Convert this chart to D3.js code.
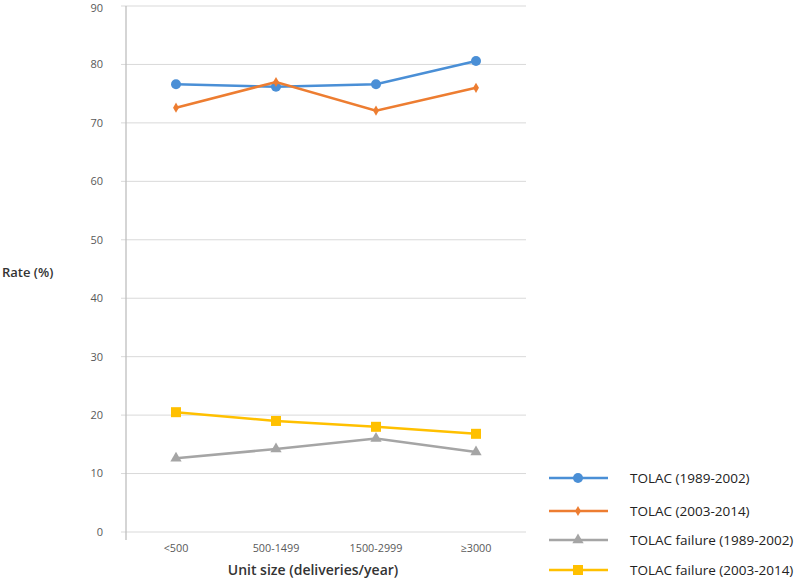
<!DOCTYPE html>
<html><head><meta charset="utf-8">
<script src="https://cdn.jsdelivr.net/npm/d3@7"></script>
<style>body{margin:0;background:#fff}svg{display:block;font-family:"Open Sans","Noto Sans",sans-serif}</style>
</head><body>
<svg id="c" width="800" height="580"></svg>
<script>
const categories = ["<500", "500-1499", "1500-2999", "≥3000"];
const yTicks = [0, 10, 20, 30, 40, 50, 60, 70, 80, 90];
const seriesNames = ["TOLAC (1989-2002)", "TOLAC (2003-2014)", "TOLAC failure (1989-2002)", "TOLAC failure (2003-2014)"];
const tolac8902 = [76.6, 76.2, 76.6, 80.6];
const tolac0314 = [72.6, 77.0, 72.1, 76.0];
const fail8902 = [12.6, 14.2, 16.0, 13.7];
const fail0314 = [20.5, 19.0, 18.0, 16.8];
const colors = ["#4a8fd6", "#ed7d31", "#a5a5a5", "#ffc000"];
const markers = ["circle", "diamond", "triangle", "square"];

const series = [tolac8902, tolac0314, fail8902, fail0314].map((v, i) => ({name: seriesNames[i], values: v, color: colors[i], marker: markers[i]}));

const svg = d3.select("#c");
const x = d3.scalePoint().domain(categories).range([126, 526]).padding(0.5);
const y = d3.scaleLinear().domain([0, 90]).range([532, 6]);

// gridlines
svg.append("g").selectAll("line").data(yTicks).join("line")
  .attr("x1", 121).attr("x2", 526)
  .attr("y1", d => y(d)).attr("y2", d => y(d))
  .attr("stroke", "#d9d9d9").attr("stroke-width", 1);
// y axis line
svg.append("line").attr("x1", 126).attr("x2", 126).attr("y1", y(90)).attr("y2", 540)
  .attr("stroke", "#bfbfbf").attr("stroke-width", 1.3);

// y tick labels
svg.append("g").selectAll("text").data(yTicks).join("text")
  .attr("x", 103).attr("y", d => Math.max(y(d), 8)).attr("dy", "0.35em")
  .attr("text-anchor", "end").attr("font-size", 11).attr("fill", "#595959")
  .text(d => d);

// x labels
svg.append("g").selectAll("text").data(categories).join("text")
  .attr("x", d => x(d)).attr("y", 548).attr("dy", "0.35em")
  .attr("text-anchor", "middle").attr("font-size", 10.8).attr("fill", "#595959")
  .text(d => d);

svg.append("text").attr("x", 313).attr("y", 570).attr("dy", "0.35em")
  .attr("text-anchor", "middle").attr("font-size", 14).attr("font-weight", 600).attr("fill", "#333")
  .text("Unit size (deliveries/year)");
svg.append("text").attr("x", 2).attr("y", 272).attr("dy", "0.35em")
  .attr("font-size", 13).attr("font-weight", 600).attr("fill", "#333")
  .text("Rate (%)");

function drawMarker(g, type, cx, cy, color) {
  if (type === "circle") g.append("circle").attr("cx", cx).attr("cy", cy).attr("r", 5).attr("fill", color);
  else if (type === "diamond") g.append("path").attr("d", d3.symbol(d3.symbolDiamond, 30)()).attr("transform", `translate(${cx},${cy})`).attr("fill", color);
  else if (type === "triangle") g.append("path").attr("d", d3.symbol(d3.symbolTriangle, 55)()).attr("transform", `translate(${cx},${cy})`).attr("fill", color);
  else g.append("rect").attr("x", cx - 5).attr("y", cy - 5).attr("width", 10).attr("height", 10).attr("fill", color);
}

const line = d3.line().x((d, i) => x(categories[i])).y(d => y(d));
series.forEach(s => {
  const g = svg.append("g");
  g.append("path").attr("d", line(s.values)).attr("fill", "none").attr("stroke", s.color).attr("stroke-width", 2.5);
  s.values.forEach((v, i) => drawMarker(g, s.marker, x(categories[i]), y(v), s.color));
});

// legend
const legY = [478, 511, 540, 570];
series.forEach((s, i) => {
  const g = svg.append("g");
  g.append("line").attr("x1", 549).attr("x2", 608).attr("y1", legY[i]).attr("y2", legY[i]).attr("stroke", s.color).attr("stroke-width", 2.5);
  drawMarker(g, s.marker, 578, legY[i], s.color);
  g.append("text").attr("x", 630).attr("y", legY[i]).attr("dy", "0.35em").attr("font-size", 13.5).attr("font-weight", 500).attr("fill", "#222").text(s.name);
});
</script>
</body></html>
